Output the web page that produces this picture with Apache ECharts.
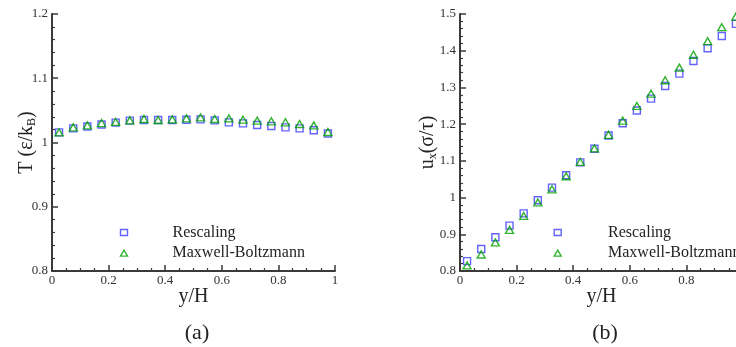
<!DOCTYPE html>
<html><head><meta charset="utf-8">
<script src="https://cdn.jsdelivr.net/npm/echarts@6/dist/echarts.min.js"></script>
<style>html,body{margin:0;padding:0;background:#fff}#c{width:736px;height:347px}</style>
</head><body><div id="c"></div>
<script>
const yH = [0.025,0.075,0.125,0.175,0.225,0.275,0.325,0.375,0.425,0.475,0.525,0.575,0.625,0.675,0.725,0.775,0.825,0.875,0.925,0.975];
const T_rescaling = [1.0158,1.0220,1.0250,1.0280,1.0310,1.0340,1.0350,1.0350,1.0350,1.0355,1.0360,1.0345,1.0314,1.0298,1.0272,1.0257,1.0236,1.0220,1.0190,1.0140];
const T_maxwell = [1.0158,1.0236,1.0267,1.0303,1.0320,1.0345,1.0366,1.0350,1.0360,1.0376,1.0390,1.0366,1.0376,1.0355,1.0340,1.0330,1.0314,1.0288,1.0267,1.0163];
const U_rescaling = [0.827,0.860,0.892,0.9235,0.957,0.9926,1.027,1.0607,1.096,1.133,1.169,1.2024,1.237,1.2696,1.304,1.3377,1.372,1.4067,1.440,1.473];
const U_maxwell = [0.8154,0.845,0.878,0.912,0.950,0.987,1.0225,1.058,1.097,1.134,1.171,1.2096,1.2496,1.283,1.3195,1.354,1.389,1.426,1.464,1.493];
const names = ['Rescaling','Maxwell-Boltzmann'];
const panelLabels = ['(a)','(b)'];

const FONT = 'Liberation Serif';
const AX = '#3a3a3a';
const BLUE = '#3c3cff';
const GREEN = '#00a000';
const pair = (xs, ys) => xs.map((x,i)=>[x, ys[i]]);

function xAxisCfg(gi){
  return {
    gridIndex: gi, type:'value', min:0, max:1, interval:0.2,
    name:'y/H', nameLocation:'middle', nameGap:16, nameMoveOverlap:false,
    nameTextStyle:{fontFamily:FONT,fontSize:20,color:'#222',verticalAlign:'top'},
    axisLine:{show:true,lineStyle:{color:AX,width:2}},
    axisTick:{show:true,inside:true,length:6,lineStyle:{color:AX,width:1.5}},
    minorTick:{show:true,splitNumber:4,length:3,lineStyle:{color:AX,width:1.2}},
    axisLabel:{fontFamily:FONT,fontSize:13,color:'#333',margin:3},
    splitLine:{show:false}
  };
}
function yAxisCfg(gi, min, max, name, gap){
  return {
    gridIndex: gi, type:'value', min:min, max:max, interval:0.1,
    name:name, nameLocation:'middle', nameGap:gap, nameRotate:90, nameMoveOverlap:false,
    nameTextStyle:{fontFamily:FONT,fontSize:20,color:'#222',
      rich:{sub:{fontFamily:FONT,fontSize:12,color:'#222',verticalAlign:'bottom',padding:[10,0,0,0]},
            n:{fontFamily:FONT,fontSize:20,color:'#222'}}},
    axisLine:{show:true,lineStyle:{color:AX,width:2}},
    axisTick:{show:true,inside:true,length:6,lineStyle:{color:AX,width:1.5}},
    minorTick:{show:true,splitNumber:5,length:3,lineStyle:{color:AX,width:1.2}},
    axisLabel:{fontFamily:FONT,fontSize:13,color:'#333',margin:4},
    splitLine:{show:false}
  };
}
function sq(name, xi, data){
  return {name:name,type:'scatter',xAxisIndex:xi,yAxisIndex:xi,data:data,symbol:'rect',symbolSize:7,
    itemStyle:{color:'rgba(255,255,255,0)',borderColor:BLUE,borderWidth:1.4}};
}
function tri(name, xi, data){
  return {name:name,type:'scatter',xAxisIndex:xi,yAxisIndex:xi,data:data,symbol:'triangle',symbolSize:[8,7],
    itemStyle:{color:'rgba(255,255,255,0)',borderColor:GREEN,borderWidth:1.4}};
}
function legendCfg(left, pad){
  return {
    left:left, top:224.5, orient:'vertical', padding:0, itemGap:4.6, itemWidth:7, itemHeight:6,
    selectedMode:false,
    data:[{name:names[0],icon:'rect'},{name:names[1],icon:'triangle'}],
    itemStyle:{borderWidth:1.4},
    textStyle:{fontFamily:FONT,fontSize:16,color:'#222',lineHeight:16,padding:[0,0,0,pad]}
  };
}

const chart = echarts.init(document.getElementById('c'), null, {renderer:'canvas'});
chart.setOption({
  animation:false,
  backgroundColor:'#fff',
  title:[
    {text:panelLabels[0],left:192,top:317,textAlign:'center',textStyle:{fontFamily:FONT,fontSize:22,fontWeight:'normal',color:'#222'}},
    {text:panelLabels[1],left:600,top:317,textAlign:'center',textStyle:{fontFamily:FONT,fontSize:22,fontWeight:'normal',color:'#222'}}
  ],
  grid:[
    {left:52,top:14,width:283,height:257,outerBoundsMode:'none',containLabel:false},
    {left:460,top:14,width:283,height:257,outerBoundsMode:'none',containLabel:false}
  ],
  xAxis:[xAxisCfg(0), xAxisCfg(1)],
  yAxis:[
    yAxisCfg(0,0.8,1.2,'{n|T (ε/k}{sub|B}{n|)}',14),
    yAxisCfg(1,0.8,1.5,'{n|u}{sub|x}{n|(σ/τ)}',21)
  ],
  legend:[legendCfg(119.8,40), legendCfg(553.5,41.8)],
  series:[
    sq(names[0],0,pair(yH,T_rescaling)),
    tri(names[1],0,pair(yH,T_maxwell)),
    sq(names[0],1,pair(yH,U_rescaling)),
    tri(names[1],1,pair(yH,U_maxwell))
  ]
});
</script></body></html>
